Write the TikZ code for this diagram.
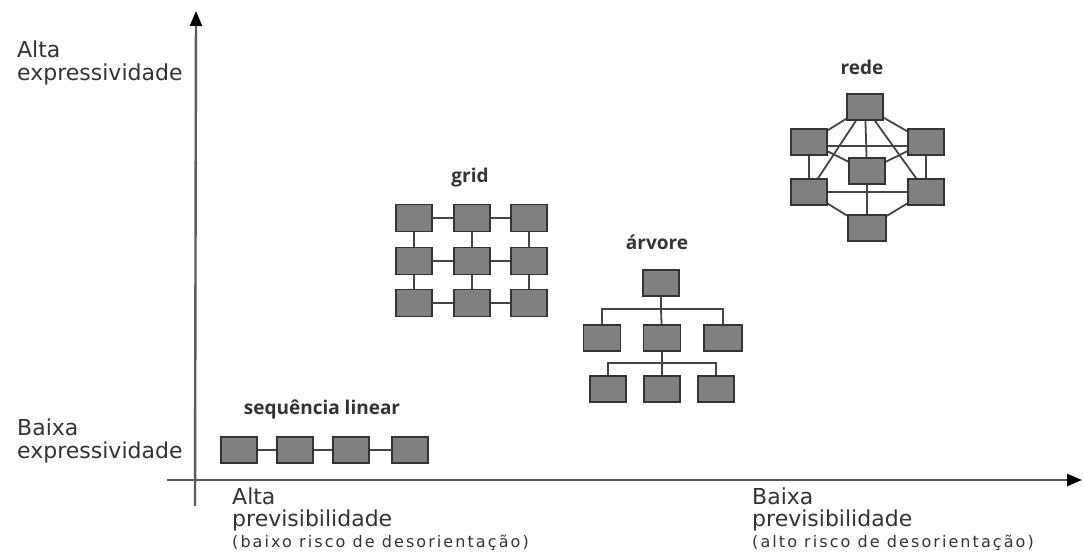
\documentclass[tikz,border=0pt]{standalone}
\usepackage{fontspec}
\setmainfont{DejaVu Sans}
\newfontfamily\axfont{DejaVu Sans}
\newfontfamily\smallax{DejaVu Sans}[LetterSpace=13]
\newfontfamily\ttlfont{Open Sans}
\usetikzlibrary{arrows.meta,backgrounds}
\definecolor{boxfill}{HTML}{808080}
\definecolor{boxline}{HTML}{333333}
\definecolor{edgecol}{HTML}{444444}
\definecolor{axiscol}{HTML}{5A5A5A}
\definecolor{txtcol}{HTML}{333333}
\tikzset{
  box/.style={draw=boxline, fill=boxfill, line width=1.8pt, minimum width=36pt, minimum height=26pt, inner sep=0pt},
  edge/.style={draw=edgecol, line width=1.8pt},
  axis/.style={draw=axiscol, line width=2.4pt, -{Triangle[length=15pt,width=12pt,fill=black,color=black]}},
  axlab/.style={font=\axfont\fontsize{22}{22}\selectfont, text=txtcol, align=left, inner sep=0pt, anchor=base west},
  ttl/.style={font=\ttlfont\bfseries\fontsize{19}{20}\selectfont, text=txtcol, inner sep=0pt, anchor=base}
}
\begin{document}
\begin{tikzpicture}[x=1pt,y=-1pt]
\useasboundingbox (0,0) rectangle (1083,553);
% axes
\coordinate (yo) at (195,506);
\coordinate (ytop) at (196,11);
\coordinate (xo) at (167,480);
\coordinate (xend) at (1082,480);
\draw[axis] (yo) -- (ytop);
\draw[axis] (xo) -- (xend);
% axis labels (base = baseline of last line)
\node[axlab, font=\axfont\fontsize{22}{23}\selectfont] (ltop) at (17,81) {Alta\\expressividade};
\node[axlab, font=\axfont\fontsize{22}{23}\selectfont] (lbot) at (17,458) {Baixa\\expressividade};
\node[axlab] (bl1) at (232,526) {Alta\\previsibilidade};
\node[axlab, font=\smallax\fontsize{16}{18}\selectfont] (bl2) at (232,547) {(baixo risco de desorientação)};
\node[axlab] (br1) at (752,526) {Baixa\\previsibilidade};
\node[axlab, font=\smallax\fontsize{16}{18}\selectfont] (br2) at (752,547) {(alto risco de desorientação)};
% titles
\node[ttl] (tseq) at (322,414) {sequência linear};
\node[ttl] (tgrid) at (470,183) {grid};
\node[ttl] (ttree) at (657,249) {árvore};
\node[ttl] (trede) at (862,75) {rede};
% sequence
\node[box] (s1) at (239,450) {};
\node[box] (s2) at (295,450) {};
\node[box] (s3) at (351,450) {};
\node[box] (s4) at (410,450) {};
% grid
\foreach \c/\x in {1/414,2/472,3/529}{
  \foreach \r/\y in {1/218,2/261,3/303}{
    \node[box, minimum height=27pt] (g\r\c) at (\x,\y) {};
  }
}
% tree
\node[box] (t0) at (661,283) {};
\node[box, minimum width=37pt] (t1) at (602,338) {};
\node[box, minimum width=37pt] (t2) at (662,338) {};
\node[box, minimum width=38pt] (t3) at (723,338) {};
\node[box] (t4) at (608,389) {};
\node[box] (t5) at (662,389) {};
\node[box] (t6) at (716,389) {};
\coordinate (b1) at (661,309);
\coordinate (b2) at (662,363);
% rede
\node[box] (rt) at (865,107) {};
\node[box] (rul) at (809,142) {};
\node[box] (rur) at (926,142) {};
\node[box] (rc) at (867,171) {};
\node[box] (rll) at (809,192) {};
\node[box] (rlr) at (926,192) {};
\node[box, minimum width=38pt] (rb) at (867,228) {};
\begin{pgfonlayer}{background}
  \draw[edge] (s1) -- (s2) -- (s3) -- (s4);
  \foreach \r in {1,2,3}{
    \draw[edge] (g\r1) -- (g\r2) -- (g\r3);
    \draw[edge] (g1\r) -- (g2\r) -- (g3\r);
  }
  \draw[edge] (t0) -- (b1);
  \draw[edge] (t1.north) |- (b1) -| (t3.north);
  \draw[edge] (t2) -- (b1);
  \draw[edge] (t2) -- (b2);
  \draw[edge] (t4.north) |- (b2) -| (t6.north);
  \draw[edge] (t5) -- (b2);
  \draw[edge] (rt) -- (rul);
  \draw[edge] (rt) -- (rur);
  \draw[edge] (rt) -- (rc);
  \draw[edge] (rt) -- (rll);
  \draw[edge] (rt) -- (rlr);
  \draw[edge] ([yshift=-4pt]rul.center) -- ([yshift=-4pt]rur.center);
  \draw[edge] (rul) -- (rll);
  \draw[edge] (rur) -- (rlr);
  \draw[edge] (rul) -- (rc);
  \draw[edge] (rur) -- (rc);
  \draw[edge] (rll) -- (rlr);
  \draw[edge] (rc) -- (rb);
  \draw[edge] (rll) -- (rb);
  \draw[edge] (rlr) -- (rb);
\end{pgfonlayer}
\end{tikzpicture}
\end{document}
